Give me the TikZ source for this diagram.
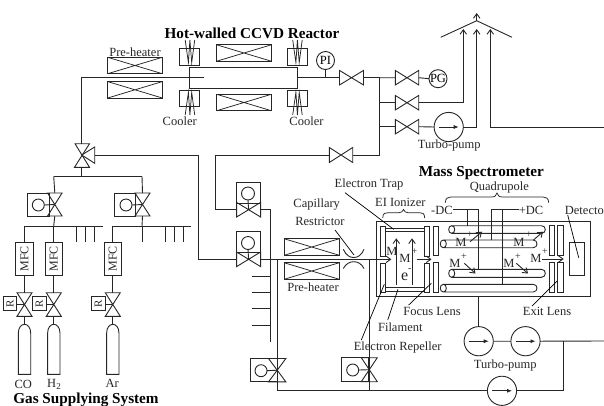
\documentclass[tikz,border=0pt]{standalone}
\usepackage{fontspec}
\setmainfont{Liberation Serif}
\usetikzlibrary{arrows.meta,decorations.pathreplacing}
\tikzset{
  pipe/.style={line width=0.9pt,draw=black!85,line cap=butt},
  thin line/.style={line width=0.75pt,draw=black!85},
  flow/.style={pipe,-{Straight Barb[length=4.5pt,width=6.5pt,line width=0.9pt]}},
  pointer/.style={line width=0.7pt,draw=black},
  lbl/.style={font=\fontsize{12.5pt}{13pt}\selectfont,inner sep=0pt,text=black!85},
  sup/.style={lbl,font=\fontsize{10pt}{10pt}\selectfont},
  title/.style={font=\fontsize{15.2pt}{16pt}\selectfont\bfseries,inner sep=0pt,text=black},
  blank/.style={rectangle,inner sep=0pt,outer sep=0pt},
  boxed/.style={blank,draw=black!85,line width=0.9pt,fill=none},
  plate/.style={boxed,minimum width=5.3pt},
  circ/.style={circle,inner sep=0pt,outer sep=0pt,draw=black!85,line width=0.9pt},
  bigcirc/.style={circ,minimum size=29.2pt},
  gauge/.style={circ,minimum size=18pt,font=\fontsize{12.5pt}{13pt}\selectfont},
  smallcirc/.style={circ,minimum size=12.5pt},
}
% flow valves: H = flow left-right, V = flow up-down
\newcommand\valveH[5][0]{\node[blank,minimum width=#4pt,minimum height=#5pt] (#2) at (#3) {};
  \draw[pipe] (#2.north west)--(#2.south east)--(#2.north east)--(#2.south west)--cycle;}
\newcommand\valveV[5][0]{\node[blank,minimum width=#4pt,minimum height=#5pt] (#2) at (#3) {};
  \draw[pipe] (#2.north west)--(#2.south east)--(#2.south west)--(#2.north east)--cycle;}
\newcommand\heater[2]{\node[boxed,minimum width=54.6pt,minimum height=16.4pt] (#1) at (#2) {};
  \draw[thin line] (#1.north west)--(#1.south east) (#1.north east)--(#1.south west);}
\newcommand\pump[2]{\node[bigcirc] (#1) at (#2) {};
  \draw[thin line,-{Latex[length=5pt,width=4pt]}] ([xshift=-10pt]#1.center)--([xshift=10pt]#1.center);}
\newcommand\cylinder[3]{% name, centre x, top y
  \coordinate (#1) at (#2,#3);
  \draw[pipe] (#2-6.2,374.3)--(#2-6.2,#3+9) .. controls (#2-6.2,#3+3) and (#2-3,#3) .. (#2,#3)
     .. controls (#2+3,#3) and (#2+6.2,#3+3) .. (#2+6.2,#3+9)--(#2+6.2,374.3)--cycle;}
\newcommand\rod[5]{% name, x1, x2, y1, y2
  \coordinate (#1 top) at (#2+6,#4);
  \draw[pipe] (#2+3,#4)--(#3-3.8,#4) .. controls (#3+1.27,#4) and (#3+1.27,#5) .. (#3-3.8,#5)
     --(#2+3,#5) .. controls (#2-1,#5) and (#2-1,#4) .. (#2+3,#4)
     .. controls (#2+7,#4) and (#2+7,#5) .. (#2+3,#5);}
\begin{document}
\begin{tikzpicture}[x=1pt,y=-1pt]
\useasboundingbox (0,0) rectangle (604,405);

% ---------- Reactor ----------
\node[title] (tReactor) at (252,33.5) {Hot-walled CCVD Reactor};
\node[lbl] (tPreA) at (135,52) {Pre-heater};
\heater{heatA}{135,65.5}
\heater{heatB}{135,89.8}
\heater{heatC}{244,53}
\heater{heatD}{244,102.5}
\node[boxed,minimum width=107.5pt,minimum height=21pt] (reactor) at (243.2,77.7) {};
\foreach \n/\cx in {L/189.7,R/297.2}{
  \node[boxed,minimum width=20pt,minimum height=16.7pt] (cool\n t) at (\cx,56.6) {};
  \node[boxed,minimum width=20pt,minimum height=16.4pt] (cool\n b) at (\cx,98.5) {};
  \draw[thin line] (\cx-4.5,40)--(\cx-1.3,62.6)--(\cx+0.2,40)--(\cx+2,62.6)--(\cx+5,40);
  \draw[thin line] (\cx-4.5,115)--(\cx-1.3,92.3)--(\cx+0.2,115)--(\cx+2,92.3)--(\cx+5,115);
}
\node[lbl] (tCoolL) at (179.7,121) {Cooler};
\node[lbl] (tCoolR) at (306.5,121) {Cooler};

% three-way valve
\coordinate (three) at (81.7,155);
\draw[pipe] (75,143.7)--(89.5,143.7)--(74.5,167.3)--(89.5,167.3)--cycle;
\draw[pipe] (three)--(94.7,147)--(94.7,163.3)--cycle;
\coordinate (inlet) at (204,77.7);
\coordinate (leftTop) at (81.7,77.7);
\draw[pipe] (inlet)--(leftTop)--(81.7,143.7);

% exhaust side
\node[gauge] (PI) at (325.5,60.5) {PI};
\coordinate (outA) at (reactor.east |- 0,77.7);
\valveH{vMain}{351.5,77.7}{24}{14.5}
\coordinate (jTop) at (379.7,77.7);
\coordinate (jBot) at (379.7,155);
\coordinate (jMid) at (379.7,102.7);
\coordinate (jLow) at (379.7,126.7);
\draw[pipe] (outA)--(vMain.west) (vMain.east)--(jTop)--(jBot);
\draw[pipe] (PI.south)--(PI.south |- outA);
\valveH{vPG}{407,77.7}{23.4}{14.5}
\valveH{vVent}{407,102.7}{23.4}{14.5}
\valveH{vTurbo}{407,126.7}{23.4}{14.5}
\node[gauge] (PG) at (438,78.7) {PG};
\draw[pipe] (jTop)--(vPG.west) (vPG.east)--(PG.west);
\draw[pipe] (jMid)--(vVent.west) (jLow)--(vTurbo.west);
\pump{pumpA}{448.7,127}
\draw[pipe] (vTurbo.east)--(pumpA.west);
\node[lbl] (tTurboA) at (449.3,145) {Turbo-pump};

% roof and exhaust arrows
\coordinate (roofL) at (440.7,37.3);
\coordinate (roofT) at (476.7,20.7);
\coordinate (roofR) at (512,37.3);
\draw[pipe] (roofL)--(roofT)--(roofR);
\coordinate (up1) at (463.3,29);
\coordinate (up2) at (476.7,29);
\coordinate (up3) at (490.3,29);
\coordinate (topTip) at (476.7,13);
\coordinate (farA) at (604,127);
\draw[flow] (roofT)--(topTip);
\draw[flow] (vVent.east)--(up1 |- vVent.east)--(up1);
\draw[flow] (pumpA.east)--(up2 |- pumpA.east)--(up2);
\draw[flow] (farA)--(up3 |- farA)--(up3);

% bottom return branch
\valveH{vRet}{341,155}{23.4}{15}
\coordinate (retL) at (215.5,155);
\draw[pipe] (jBot)--(vRet.east) (vRet.west)--(retL);

% ---------- actuated valves, centre ----------
\valveH{vA}{248.6,209.7}{24}{14.6}
\node[boxed,minimum width=24pt,minimum height=20.5pt] (boxA) at (248.6,192.7) {};
\node[smallcirc,minimum size=13pt] (cA) at (248,193.5) {};
\draw[pipe] (cA.south)--(vA.center);
\valveH{vB}{248.6,259.3}{24}{14.6}
\node[boxed,minimum width=24pt,minimum height=20.5pt] (boxB) at (248.6,242) {};
\node[smallcirc,minimum size=13pt] (cB) at (248,243) {};
\draw[pipe] (cB.south)--(vB.center);

\coordinate (colA) at (198.3,155);
\draw[pipe] (94.7,155)--(colA)--(colA |- vB.west)--(vB.west);
\draw[pipe] (retL)--(retL |- vA.west)--(vA.west);
\coordinate (busTop) at (270.2,209.7);
\coordinate (busEnd) at (270.2,341.7);
\draw[pipe] (vA.east)--(busTop)--(busEnd);
\foreach \y in {276,292.3,308.3,325.3}{\draw[pipe] (busEnd |- 0,\y)--(251.7,\y);}

\heater{heatE}{311.7,247}
\heater{heatF}{311.7,271}
\node[lbl] (tPreB) at (313,287) {Pre-heater};
\draw[pipe] (343.3,249.3) .. controls (346,255.5) and (350,257.5) .. (353.7,257.5)
  .. controls (357.5,257.5) and (361.5,255.5) .. (364,249.3);
\draw[pipe] (343.3,268.5) .. controls (346,263.5) and (350,261.7) .. (353.7,261.7)
  .. controls (357.5,261.7) and (361.5,263.5) .. (364,268.5);
\node[lbl] (tCapA) at (316.7,205) {Capillary};
\node[lbl] (tCapB) at (320,221) {Restrictor};
\coordinate (capTip) at (354,255);
\draw[pointer] (335,230)--(capTip);

\coordinate (ionIn) at (391.3,259.3);
\draw[flow] (vB.east)--(ionIn);
\coordinate (busB) at (277.4,259.3);
\coordinate (busC) at (369,259.3);
\coordinate (lowL) at (277.4,390.8);
\coordinate (lowM) at (369,390.8);
\coordinate (lowR) at (563,390.8);
\coordinate (upR) at (563,341);
\coordinate (farB) at (604,341);
\draw[pipe] (busB)--(lowL)--(lowM) (busC)--(lowM);

% bottom actuated valves
\valveV{vC}{277.2,370.2}{17.4}{23.4}
\node[boxed,minimum width=26.5pt,minimum height=23.4pt] (boxC) at (264,370.2) {};
\node[smallcirc,minimum size=12pt] (cC) at (261,370.7) {};
\draw[pipe] (cC.east)--(vC.center);
\valveV{vD}{369.3,369.7}{16}{24}
\node[boxed,minimum width=27.4pt,minimum height=24pt] (boxD) at (355,369.7) {};
\node[smallcirc,minimum size=12pt] (cD) at (352.7,370) {};
\draw[pipe] (cD.east)--(vD.center);

% pumps lower right
\pump{pumpB}{478.7,341.2}
\pump{pumpC}{525.5,341.2}
\pump{pumpD}{502,390.8}
\draw[pipe] (pumpB.east)--(pumpC.west) (pumpC.east)--(farB);
\draw[pipe] (lowM)--(pumpD.west) (pumpD.east)--(lowR)--(upR);
\node[lbl] (tTurboB) at (505.3,365) {Turbo-pump};

% ---------- Mass spectrometer ----------
\node[title] (tMass) at (481.3,173.5) {Mass Spectrometer};
\node[boxed,minimum width=214pt,minimum height=75pt] (ms) at (483.3,259.2) {};
\draw[pipe] (pumpB.north)--(pumpB.north |- ms.south);

% ionizer
\foreach \n/\x in {a/383.2,b/427}{
  \node[plate,minimum height=30pt] (ion\n u) at (\x,241) {};
  \node[plate,minimum height=29pt] (ion\n l) at (\x,277.5) {};
}
\draw[pipe] (385.8,228.3)--(424.4,228.3) (385.8,231.7)--(424.4,231.7);
\draw[pipe] (385.8,287.7)--(424.4,287.7) (385.8,291.8)--(424.4,291.8);
\node[plate,minimum height=29.7pt] (focU) at (435.8,240.9) {};
\node[plate,minimum height=29.6pt] (focL) at (435.8,277.5) {};
\draw[flow] (396.3,285)--(396.3,238.3);
\draw[flow] (412,285)--(412,238.3);
\draw[flow] (417,259.3)--(431.5,259.3);
\node[lbl] (mA) at (391.8,251.7) {M};
\node[lbl] (mB) at (405,258.5) {M};
\node[sup] (mBp) at (414.5,251.5) {+};
\node[lbl,anchor=base west] (eL) at (400.8,280.5) {\fontsize{16pt}{16pt}\selectfont e\raisebox{9pt}{\fontsize{10pt}{10pt}\selectfont -}};

% quadrupole
\rod{rodA}{448.7}{545.3}{225.7}{233.3}
\rod{rodB}{440.3}{537}{240}{247.7}
\rod{rodC}{448.7}{545.3}{269.3}{277.3}
\rod{rodD}{440.3}{537}{284.3}{292}

\node[lbl] (tMinus) at (442,210.7) {-DC};
\node[lbl] (tPlus) at (531,210.7) {+DC};
\coordinate (dcMinus) at (478.7,209.3);
\coordinate (dcPlus) at (491.3,209.3);
\draw[thin line] (tMinus.east |- dcMinus)--(dcMinus)--(478.7,269.3);
\draw[thin line] (467.7,209.3)--(467.7,225.7);
\draw[thin line] (tPlus.west |- dcPlus)--(dcPlus)--(491.3,240);
\draw[thin line] (502,209.3)--(502,284.3);

\node[lbl] (mC) at (461,242) {M};
\node[sup] (mCp) at (470,235) {+};
\node[lbl] (mD) at (519,242) {M};
\node[sup] (mDp) at (529,235) {+};
\node[lbl] (mE) at (455,263) {M};
\node[sup] (mEp) at (464,257) {+};
\node[lbl] (mF) at (509,263) {M};
\node[sup] (mFp) at (518,257) {+};
\node[lbl] (mG) at (536,258.5) {M};
\node[sup] (mGp) at (545,252) {+};
\draw[flow] (470,241.7)--(482,231.7);
\draw[flow] (533.5,240)--(543,231.7);
\draw[flow] (464.3,263.3)--(475.5,273.5);
\draw[flow] (516.3,263.3)--(528,273.5);
\draw[flow] (542,259)--(563.7,259);

% exit lens, detector
\foreach \n/\x in {a/552,b/560.5}{
  \node[plate,minimum height=30.7pt] (exit\n u) at (\x,240.3) {};
  \node[plate,minimum height=29.6pt] (exit\n l) at (\x,277.5) {};
}
\node[boxed,minimum width=14.6pt,minimum height=33.4pt] (det) at (577,259) {};
\node[lbl,anchor=west] (tDet) at (564.7,210) {Detecto};
\draw[pointer] (567.7,215)--(578.7,257.7);

% braces
\draw[thin line] (382.7,218) .. controls (383,213) and (385,212.7) .. (388,212.7)--(399,212.7)
   .. controls (401.5,212.7) and (402.5,211.5) .. (403.5,209.5)
   .. controls (404.5,211.5) and (405.5,212.7) .. (408,212.7)--(419.5,212.7)
   .. controls (422.5,212.7) and (424.5,213) .. (424.7,218);
\draw[thin line] (445.3,202.7) .. controls (445.5,198) and (448,197) .. (451,197)--(491,197)
   .. controls (495,197) and (496,196) .. (497,193)
   .. controls (498,196) and (499,197) .. (503,197)--(543,197)
   .. controls (546,197) and (548.5,198) .. (548.7,202.7);
\node[lbl] (tEI) at (400.3,202.3) {EI Ionizer};
\node[lbl] (tQuad) at (499.3,187) {Quadrupole};

% labels and pointers
\node[lbl] (tTrap) at (369,184) {Electron Trap};
\draw[pointer] (345,192.7)--(393.7,229.3);
\node[lbl] (tFocus) at (432,311.7) {Focus Lens};
\draw[pointer] (408.7,305)--(431.3,283.3);
\node[lbl] (tFil) at (400.3,327.7) {Filament};
\draw[pointer] (387.7,320)--(398,289.3);
\node[lbl] (tRep) at (397.7,347.7) {Electron Repeller};
\draw[pointer] (361.3,340)--(384.3,284.3);
\node[lbl] (tExit) at (547,311.7) {Exit Lens};
\draw[pointer] (532,306)--(557,281);

% ---------- Gas supply ----------
\coordinate (bT) at (81.7,167.3);
\coordinate (feedA) at (53.7,176.3);
\coordinate (feedB) at (142,176.3);
\draw[pipe] (bT)--(81.7,176.3) (feedA)--(feedB);
\valveV{vGa}{54.8,204.5}{14.5}{23}
\node[boxed,minimum width=22.5pt,minimum height=23pt] (boxGa) at (38.6,204.5) {};
\node[smallcirc,minimum size=12pt] (cGa) at (38.3,205) {};
\valveV{vGb}{142.5,204.5}{15}{23}
\node[boxed,minimum width=21pt,minimum height=23pt] (boxGb) at (124.8,204.5) {};
\node[smallcirc,minimum size=12pt] (cGb) at (126,205) {};
\draw[pipe] (cGa.east)--(vGa.center) (cGb.east)--(vGb.center);
\draw[pipe] (feedA)--(vGa.north) (feedB)--(vGb.north);

\coordinate (busA) at (53.7,226);
\coordinate (busD) at (142,226);
\draw[pipe] (vGa.south)--(busA) (vGb.south)--(busD);
\draw[pipe] (24.3,226)--(102.7,226) (112.5,226)--(190.7,226);
\foreach \x in {76.3,85.7,94.3,142,165,174,183.3}{\draw[pipe] (\x,226)--(\x,242.3);}

\foreach \n/\x/\rx/\ctop in {a/24.5/10,b/53.8/39.3,c/112.8/98.3}{
  \node[boxed,minimum width=17.6pt,minimum height=32.7pt] (mfc\n) at (\x,258.7) {};
  \node[lbl,rotate=90,font=\fontsize{12pt}{12pt}\selectfont] at (mfc\n.center) {MFC};
  \draw[pipe] (mfc\n.north)--(\x,226);
  \valveV{vR\n}{\x,304.5}{15}{23.6}
  \draw[pipe] (mfc\n.south)--(vR\n.north);
  \node[boxed,minimum width=13.4pt,minimum height=14pt] (boxR\n) at (\rx,303.7) {};
  \node[lbl,rotate=90,font=\fontsize{11pt}{11pt}\selectfont] at (boxR\n.center) {R};
  \draw[pipe] (\rx+6.7,304.5)--(vR\n.center);
  \cylinder{cyl\n}{\x}{324.3}
  \draw[pipe] (vR\n.south)--(cyl\n);
}
\node[lbl] (tCO) at (23.3,384.5) {CO};
\node[lbl] (tH) at (54,384) {H\raisebox{-2pt}{\fontsize{9pt}{9pt}\selectfont 2}};
\node[lbl] (tAr) at (112.3,383) {Ar};
\node[title] (tGas) at (86,399.5) {Gas Supplying System};
\end{tikzpicture}
\end{document}
